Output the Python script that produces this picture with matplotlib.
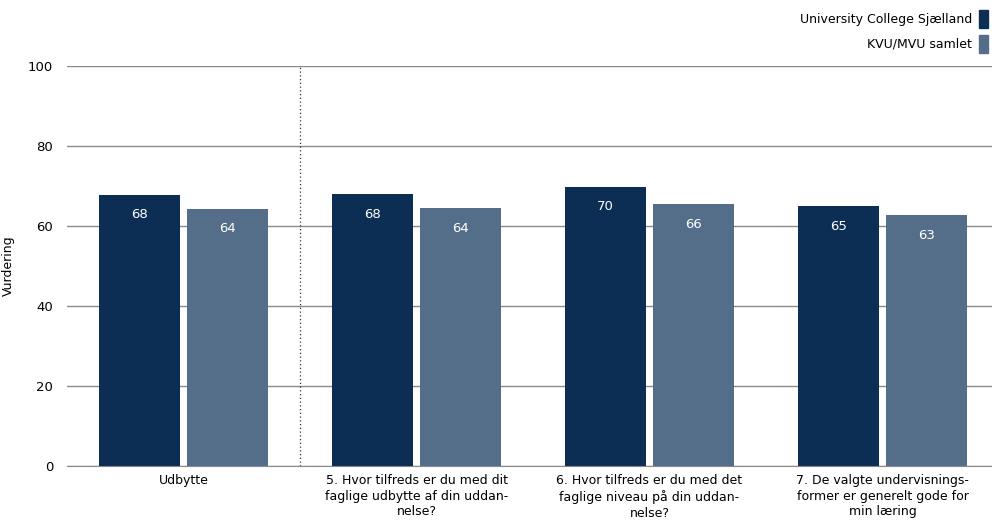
import matplotlib
matplotlib.use('Agg')
import matplotlib.pyplot as plt
import numpy as np

# data
categories = ['Udbytte',
              '5. Hvor tilfreds er du med dit\nfaglige udbytte af din uddan-\nnelse?',
              '6. Hvor tilfreds er du med det\nfaglige niveau på din uddan-\nnelse?',
              '7. De valgte undervisnings-\nformer er generelt gode for\nmin læring']
ucs_values = [67.8, 68.0, 69.8, 65.0]
kvu_values = [64.3, 64.5, 65.5, 62.7]
ucs_labels = ['68', '68', '70', '65']
kvu_labels = ['64', '64', '66', '63']
series_names = ['University College Sjælland', 'KVU/MVU samlet']
dark = '#0d2e54'
light = '#546e8a'

plt.rcParams['font.family'] = ['DejaVu Sans']
fig = plt.figure(figsize=(9.92, 5.31), dpi=100)
ax = fig.add_axes([67 / 992, 65 / 531, 1 - 67 / 992, 400 / 531])

x = np.arange(len(categories))
w = 0.348
off = 0.189
b1 = ax.bar(x - off, ucs_values, w, color=dark, zorder=3)
b2 = ax.bar(x + off, kvu_values, w, color=light, zorder=3)

#value labels inside the bars, near the top
for bars, labels in ((b1, ucs_labels), (b2, kvu_labels)):
    for bar, lab in zip(bars, labels):
        ax.annotate(lab, (bar.get_x() + bar.get_width() / 2, bar.get_height()),
                    xytext=(0, -20), textcoords='offset pixels',
                    ha='center', va='center', color='white', fontsize=9.5, zorder=4)

ax.set_ylim(0, 100)
ax.set_xlim(-0.5, 3.5 - 7 / 233)
ax.set_yticks([0, 20, 40, 60, 80, 100])
ax.yaxis.grid(True, color='#8a8a8a', linewidth=1, zorder=0)
ax.set_xticks(x)
ax.set_xticklabels(categories, fontsize=9, linespacing=1.25)
ax.tick_params(axis='x', length=0, pad=6)
ax.tick_params(axis='y', length=0, labelsize=9.5, pad=10)
for s in ['top', 'right', 'left']:
    ax.spines[s].set_visible(False)
ax.spines['bottom'].set_color('#8a8a8a')
ax.spines['bottom'].set_zorder(5)
ax.axvline(0.5, color='#333333', linestyle=(0, (1, 2)), linewidth=0.9, zorder=2)
ax.set_ylabel('Vurdering', fontsize=9)
ax.yaxis.set_label_coords(-52 / 925, 0.5)

#legend built by hand at the top right
for i, (name, col) in enumerate(zip(series_names, [dark, light])):
    yc = 1 - (19 + 25 * i) / 531
    fig.text(972 / 992, yc, name, ha='right', va='center', fontsize=9)
    fig.patches.append(plt.Rectangle((979 / 992, yc - 9 / 531), 9 / 992, 18 / 531,
                                     transform=fig.transFigure, color=col))

fig.savefig('out.png', dpi=100)
